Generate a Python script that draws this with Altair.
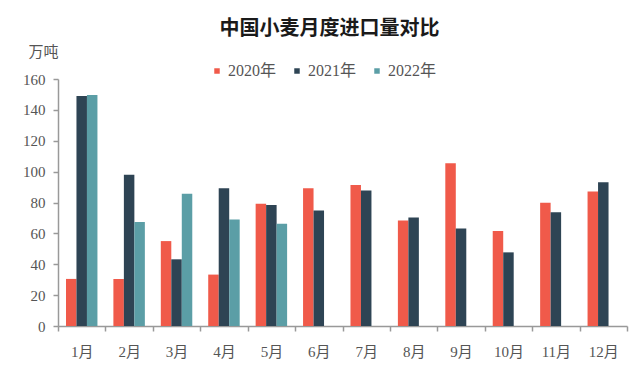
import altair as alt
import pandas as pd

months = ["1月", "2月", "3月", "4月", "5月", "6月", "7月", "8月", "9月", "10月", "11月", "12月"]
series = ["2020年", "2021年", "2022年"]
y2020 = [30.5, 30.5, 55.0, 33.3, 79.2, 89.2, 91.4, 68.4, 105.4, 61.5, 79.8, 87.1]
y2021 = [149.0, 97.9, 43.2, 89.2, 78.3, 74.8, 87.7, 70.3, 63.2, 47.7, 73.7, 93.1]
y2022 = [149.7, 67.3, 85.6, 69.0, 66.2]
colors = ["#F05A4A", "#2E4454", "#5B9EA6"]

rows = []
for name, vals in zip(series, [y2020, y2021, y2022]):
    for m, v in zip(months, vals):
        rows.append({"月份": m, "年份": name, "进口量": v})
df = pd.DataFrame(rows)

FONT = "Times New Roman, Liberation Serif, DejaVu Serif, Noto Sans CJK SC, serif"
CJK = "Noto Sans CJK SC"

chart = alt.Chart(df).mark_bar().encode(
    x=alt.X("月份:N", sort=months,
            scale=alt.Scale(domain=months, paddingInner=0, paddingOuter=0),
            axis=alt.Axis(title=None, labelAngle=0, tickBand="extent",
                          labelFont=FONT, labelFontSize=15, labelColor="#555555",
                          labelPadding=13, tickSize=5, tickColor="#999999",
                          domainColor="#999999", domainWidth=1.5, tickWidth=1.5)),
    xOffset=alt.XOffset("年份:N", sort=series,
                        scale=alt.Scale(domain=series, paddingInner=0, paddingOuter=0.76)),
    y=alt.Y("进口量:Q",
            scale=alt.Scale(domain=[0, 160], nice=False),
            axis=alt.Axis(title="万吨", titleAngle=0, titleX=-15, titleY=-28,
                          titleAlign="center", titleBaseline="middle",
                          titleFont=CJK, titleFontSize=15, titleFontWeight="normal",
                          titleColor="#555555",
                          values=[0, 20, 40, 60, 80, 100, 120, 140, 160],
                          grid=False, labelFont=FONT, labelFontSize=15,
                          labelColor="#555555", labelPadding=8, tickSize=5,
                          tickColor="#999999", domainColor="#999999",
                          domainWidth=1.5, tickWidth=1.5)),
    color=alt.Color("年份:N", sort=series,
                    scale=alt.Scale(domain=series, range=colors),
                    legend=alt.Legend(title=None, orient="none", legendX=151, legendY=-16,
                                      direction="horizontal", symbolType="square",
                                      symbolSize=30, symbolStrokeWidth=0,
                                      labelFont=FONT, labelFontSize=16,
                                      labelColor="#555555", labelOffset=3,
                                      columnPadding=12)),
).properties(
    width=569,
    height=247,
    title=alt.TitleParams("中国小麦月度进口量对比", font=CJK, fontSize=20,
                          fontWeight="bold", color="#1a1a1a", anchor="middle",
                          dx=-13, offset=5),
    padding={"left": 50, "top": 71, "right": 8, "bottom": 40},
    autosize=alt.AutoSizeParams(type="none"),
).configure_view(stroke=None)

chart.save("out.html", embed_options={"renderer": "svg", "actions": False})
